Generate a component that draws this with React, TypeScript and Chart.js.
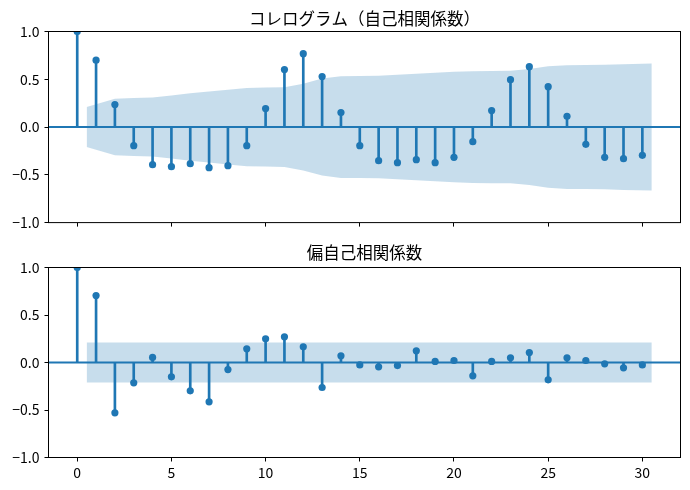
import { useEffect, useRef } from 'react'
import { Chart, registerables, type ChartConfiguration, type Plugin } from 'chart.js'

Chart.register(...registerables)

// lags 0..30
const LAGS = [
  0, 1, 2, 3, 4, 5, 6, 7, 8, 9, 10, 11, 12, 13, 14, 15, 16, 17, 18, 19, 20, 21, 22, 23, 24, 25, 26, 27,
  28, 29, 30,
]

const ACF = [
  1.0, 0.7, 0.235, -0.195, -0.394, -0.415, -0.383, -0.425, -0.404, -0.195, 0.193, 0.601, 0.768, 0.528,
  0.151, -0.195, -0.352, -0.373, -0.341, -0.373, -0.317, -0.153, 0.172, 0.496, 0.632, 0.423, 0.112,
  -0.181, -0.317, -0.331, -0.296,
]

// half-width of the confidence band, lags 1..30
const ACF_CONF = [
  0.21, 0.295, 0.304, 0.309, 0.33, 0.353, 0.371, 0.391, 0.409, 0.414, 0.417, 0.454, 0.508, 0.532, 0.534,
  0.537, 0.547, 0.558, 0.567, 0.578, 0.585, 0.587, 0.589, 0.607, 0.636, 0.648, 0.649, 0.651, 0.658,
  0.665,
]

const PACF = [
  1.0, 0.705, -0.53, -0.214, 0.053, -0.151, -0.298, -0.414, -0.074, 0.144, 0.249, 0.27, 0.165, -0.263,
  0.07, -0.025, -0.046, -0.032, 0.123, 0.011, 0.021, -0.14, 0.011, 0.049, 0.105, -0.182, 0.049, 0.021,
  -0.014, -0.056, -0.025,
]

const PACF_CONF = 0.21

const X_MIN = -1.525
const X_MAX = 32.025
const X_TICKS = [0, 5, 10, 15, 20, 25, 30]
const Y_MIN = -1
const Y_MAX = 1

const BLUE = '#1f77b4'
const BAND = 'rgba(31, 119, 180, 0.25)'
const FONT = "'Noto Sans CJK JP', 'Noto Sans', sans-serif"

const framePlugin: Plugin = {
  id: 'axesFrame',
  afterDraw(chart) {
    const { ctx, chartArea: a } = chart
    ctx.save()
    ctx.strokeStyle = '#000'
    ctx.lineWidth = 1
    ctx.strokeRect(a.left, a.top, a.right - a.left, a.bottom - a.top)
    ctx.restore()
  },
}

function bandX(i: number, n: number): number {
  // statsmodels widens the band by half a lag at both ends
  const lag = LAGS[i + 1]
  if (i === 0) return lag - 0.5
  if (i === n - 1) return lag + 0.5
  return lag
}

function buildConfig(
  title: string,
  values: number[],
  conf: number[],
  showXLabels: boolean,
  titlePad: { top: number; bottom: number },
  xAxisHeight: number,
): ChartConfiguration {
  const points = LAGS.map((lag, i) => ({ x: lag, y: values[i] }))
  const upper = conf.map((c, i) => ({ x: bandX(i, conf.length), y: c }))
  const lower = conf.map((c, i) => ({ x: bandX(i, conf.length), y: -c }))

  return {
    type: 'scatter',
    data: {
      datasets: [
        {
          type: 'scatter',
          data: points,
          pointRadius: 3.6,
          pointBackgroundColor: BLUE,
          pointBorderWidth: 0,
          order: 1,
          clip: 0,
        },
        {
          type: 'bar',
          data: points,
          backgroundColor: BLUE,
          borderWidth: 0,
          barThickness: 2,
          order: 2,
          clip: 0,
        },
        {
          type: 'line',
          data: [
            { x: X_MIN, y: 0 },
            { x: X_MAX, y: 0 },
          ],
          borderColor: BLUE,
          borderWidth: 2,
          pointRadius: 0,
          order: 3,
          clip: 0,
        },
        {
          type: 'line',
          data: upper,
          borderColor: 'transparent',
          borderWidth: 0,
          backgroundColor: BAND,
          pointRadius: 0,
          tension: 0,
          fill: '+1',
          order: 4,
          clip: 0,
        },
        {
          type: 'line',
          data: lower,
          borderColor: 'transparent',
          borderWidth: 0,
          pointRadius: 0,
          tension: 0,
          fill: false,
          order: 5,
          clip: 0,
        },
      ] as any,
    },
    options: {
      responsive: true,
      maintainAspectRatio: false,
      animation: false,
      events: [],
      layout: { padding: { left: 0, right: 9.5, top: 0, bottom: 0 } },
      plugins: {
        legend: { display: false },
        tooltip: { enabled: false },
        title: {
          display: true,
          text: title,
          color: '#000',
          fullSize: false,
          font: { family: FONT, size: 16.5, weight: 'normal', lineHeight: 1.2 },
          padding: titlePad,
        },
      },
      scales: {
        x: {
          type: 'linear',
          min: X_MIN,
          max: X_MAX,
          offset: false,
          afterBuildTicks: (scale) => {
            scale.ticks = X_TICKS.map((v) => ({ value: v }))
          },
          afterFit: (scale) => {
            scale.height = xAxisHeight
          },
          grid: {
            display: true,
            drawOnChartArea: false,
            drawTicks: true,
            tickLength: 4,
            color: '#000',
            lineWidth: 1,
            offset: false,
          },
          border: { display: false },
          ticks: {
            display: showXLabels,
            color: '#000',
            padding: 3,
            maxRotation: 0,
            font: { family: FONT, size: 14 },
            callback: (v) => String(v),
          },
        },
        y: {
          type: 'linear',
          min: Y_MIN,
          max: Y_MAX,
          afterFit: (scale) => {
            scale.width = 48.5
          },
          grid: {
            display: true,
            drawOnChartArea: false,
            drawTicks: true,
            tickLength: 4,
            color: '#000',
            lineWidth: 1,
          },
          border: { display: false },
          ticks: {
            stepSize: 0.5,
            color: '#000',
            padding: 5,
            font: { family: FONT, size: 14 },
            callback: (v) => {
              const n = Number(v)
              return n < 0 ? '\u2212' + Math.abs(n).toFixed(1) : n.toFixed(1)
            },
          },
        },
      },
    },
    plugins: [framePlugin],
  }
}

function CorrPanel({
  config,
  height,
}: {
  config: () => ChartConfiguration
  height: number
}) {
  const canvasRef = useRef<HTMLCanvasElement>(null)

  useEffect(() => {
    const canvas = canvasRef.current
    if (!canvas) return
    Chart.getChart(canvas)?.destroy()
    const chart = new Chart(canvas, config())
    return () => {
      chart.destroy()
    }
  }, [config])

  return (
    <div style={{ position: 'relative', width: 690, height }}>
      <canvas ref={canvasRef} aria-label="correlogram" />
    </div>
  )
}

const topConfig = () =>
  buildConfig('コレログラム（自己相関係数）', ACF, ACF_CONF, false, { top: 8.4, bottom: 3.3 }, 12.5)

const bottomConfig = () =>
  buildConfig(
    '偏自己相関係数',
    PACF,
    ACF_CONF.map(() => PACF_CONF),
    true,
    { top: 6.6, bottom: 5.1 },
    32.5,
  )

export default function App() {
  return (
    <div
      style={{
        position: 'absolute',
        left: 0,
        top: 0,
        width: 690,
        height: 490,
        background: '#fff',
      }}
    >
      <CorrPanel config={topConfig} height={236} />
      <CorrPanel config={bottomConfig} height={254} />
    </div>
  )
}
